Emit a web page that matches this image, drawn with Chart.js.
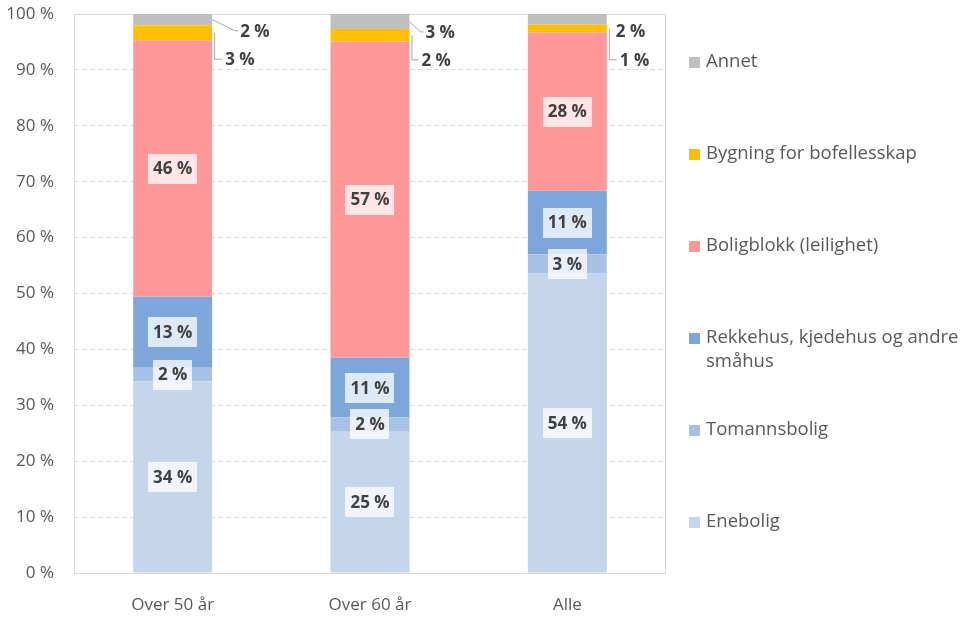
<!DOCTYPE html>
<html>
<head>
<meta charset="utf-8">
<script src="https://cdn.jsdelivr.net/npm/chart.js@4"></script>
<style>
  html, body { margin: 0; padding: 0; background: #ffffff; }
  #wrap { width: 975px; height: 635px; position: relative; }
</style>
</head>
<body>
<div id="wrap"><canvas id="c" width="975" height="635"></canvas></div>
<script>
// ---- data (percent shares) ----
const categories   = ['Over 50 år', 'Over 60 år', 'Alle'];
const enebolig     = [34.3, 25.4, 53.6];
const tomannsbolig = [2.4, 2.4, 3.4];
const rekkehus     = [12.7, 10.7, 11.4];
const boligblokk   = [45.9, 56.6, 28.3];
const bofellesskap = [2.7, 2.2, 1.4];
const annet        = [2.0, 2.7, 1.9];

const seriesNames = ['Enebolig', 'Tomannsbolig', 'Rekkehus, kjedehus og andre småhus',
                     'Boligblokk (leilighet)', 'Bygning for bofellesskap', 'Annet'];
const legendLines = [['Enebolig'], ['Tomannsbolig'], ['Rekkehus, kjedehus og andre', 'småhus'],
                     ['Boligblokk (leilighet)'], ['Bygning for bofellesskap'], ['Annet']];
const colors = ['#C5D5EB', '#A7C2E6', '#7DA6DA', '#FF9999', '#FFC000', '#BFBFBF'];

// placement of the small outside labels (style only): x offset from bar edge, y position in axis units, leader type
const outsidePlacement = {
  4: [ {dx: 13, yv: 91.9, leader: 'elbow'}, {dx: 12, yv: 91.8, leader: 'elbow'}, {dx: 13, yv: 91.8, leader: 'elbow'} ],
  5: [ {dx: 28, yv: 97.0, leader: 'diag'},  {dx: 16, yv: 96.8, leader: 'diag'},  {dx: 9,  yv: 97.0, leader: 'none'} ]
};

const FONT = '"Open Sans", "Noto Sans", sans-serif';
const GRID = '#D9D9D9';
const TXT = '#595959';

const allSeries = [enebolig, tomannsbolig, rekkehus, boligblokk, bofellesskap, annet];

const framePlugin = {
  id: 'frame',
  beforeDatasetsDraw(chart) {
    const {ctx, chartArea: a} = chart;
    ctx.save();
    ctx.strokeStyle = GRID;
    ctx.lineWidth = 1;
    ctx.setLineDash([]);
    ctx.strokeRect(Math.round(a.left) + 0.5, Math.round(a.top) + 0.5,
                   Math.round(a.right - a.left) - 1, Math.round(a.bottom - a.top));
    ctx.restore();
  }
};

const labelPlugin = {
  id: 'barLabels',
  afterDatasetsDraw(chart) {
    const ctx = chart.ctx;
    const ys = chart.scales.y;
    ctx.save();
    ctx.font = 'bold 17px ' + FONT;
    ctx.textBaseline = 'middle';
    chart.data.datasets.forEach((ds, di) => {
      const meta = chart.getDatasetMeta(di);
      meta.data.forEach((bar, i) => {
        const p = bar.getProps(['x', 'y', 'base', 'width'], true);
        const v = ds.data[i];
        const txt = Math.round(v) + ' %';
        const mid = (p.y + p.base) / 2;
        if (di < 4) {
          const w = ctx.measureText(txt).width;
          ctx.fillStyle = 'rgba(255,255,255,0.75)';
          ctx.fillRect(Math.round(p.x - w / 2 - 5), Math.round(mid - 15), Math.round(w + 10), 30);
          ctx.fillStyle = '#404040';
          ctx.textAlign = 'center';
          ctx.fillText(txt, p.x, mid + 1);
        } else {
          const pl = outsidePlacement[di][i];
          const right = p.x + p.width / 2;
          const lx = right + pl.dx;
          const ly = ys.getPixelForValue(pl.yv);
          ctx.strokeStyle = '#A6A6A6';
          ctx.lineWidth = 1;
          ctx.beginPath();
          if (pl.leader === 'elbow') {
            ctx.moveTo(right + 2.5, mid);
            ctx.lineTo(right + 2.5, ly);
            ctx.lineTo(lx - 3, ly);
            ctx.stroke();
          } else if (pl.leader === 'diag') {
            ctx.moveTo(right, mid);
            ctx.lineTo(lx - 5, ly);
            ctx.lineTo(lx - 2, ly);
            ctx.stroke();
          }
          ctx.fillStyle = '#404040';
          ctx.textAlign = 'left';
          ctx.fillText(txt, lx, ly + 1);
        }
      });
    });
    ctx.restore();
  }
};

const legendPlugin = {
  id: 'sideLegend',
  afterDraw(chart) {
    const ctx = chart.ctx;
    ctx.save();
    ctx.font = '18.5px ' + FONT;
    ctx.textBaseline = 'middle';
    ctx.textAlign = 'left';
    const x0 = 689, firstY = 62, step = 92, lineH = 24;
    for (let k = 0; k < 6; k++) {
      const si = 5 - k;
      const y = firstY + k * step;
      ctx.fillStyle = colors[si];
      ctx.fillRect(x0, y - 5, 11, 11);
      ctx.fillStyle = TXT;
      legendLines[si].forEach((ln, j) => ctx.fillText(ln, x0 + 17, y + j * lineH));
    }
    ctx.restore();
  }
};

new Chart(document.getElementById('c'), {
  type: 'bar',
  data: {
    labels: categories,
    datasets: allSeries.map((d, i) => ({
      label: seriesNames[i],
      data: d,
      backgroundColor: colors[i],
      borderWidth: 0,
      categoryPercentage: 1.0,
      barPercentage: 0.4
    }))
  },
  options: {
    responsive: false,
    animation: false,
    devicePixelRatio: 1,
    layout: { padding: { top: 14, right: 309, bottom: 0, left: 0 } },
    plugins: { legend: { display: false }, tooltip: { enabled: false } },
    scales: {
      x: {
        stacked: true,
        grid: { display: false },
        border: { display: false },
        ticks: { color: TXT, font: { family: FONT, size: 17 }, padding: 14 },
        afterFit(s) { s.height = 62; s.paddingLeft = 0; s.paddingRight = 0; }
      },
      y: {
        stacked: true,
        min: 0, max: 100,
        grid: { color: GRID, drawTicks: false, lineWidth: 1 },
        border: { display: false, dash: [5, 3] },
        ticks: {
          stepSize: 10,
          color: TXT,
          font: { family: FONT, size: 17 },
          padding: 20,
          callback: v => v + ' %'
        },
        afterFit(s) { s.width = 74; s.paddingTop = 0; s.paddingBottom = 0; }
      }
    }
  },
  plugins: [framePlugin, labelPlugin, legendPlugin]
});
</script>
</body>
</html>
